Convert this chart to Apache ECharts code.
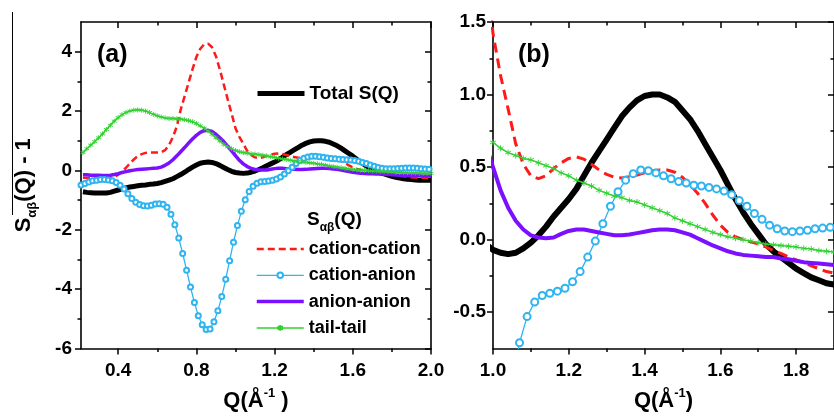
<!DOCTYPE html>
<html>
<head>
<meta charset="utf-8">
<script src="https://cdn.jsdelivr.net/npm/echarts@6/dist/echarts.min.js"></script>
<style>
  html, body { margin: 0; padding: 0; background: #fff; }
  #chart { width: 834px; height: 419px; }
</style>
</head>
<body>
<div id="chart"></div>
<script>
// Q grid (Å^-1) for the smooth partial structure factors
const qEven = [0.22,0.24,0.26,0.28,0.30,0.32,0.34,0.36,0.38,0.40,0.42,0.44,0.46,0.48,0.50,0.52,0.54,0.56,0.58,0.60,
  0.62,0.64,0.66,0.68,0.70,0.72,0.74,0.76,0.78,0.80,0.82,0.84,0.86,0.88,0.90,0.92,0.94,0.96,0.98,1.00,
  1.02,1.04,1.06,1.08,1.10,1.12,1.14,1.16,1.18,1.20,1.22,1.24,1.26,1.28,1.30,1.32,1.34,1.36,1.38,1.40,
  1.42,1.44,1.46,1.48,1.50,1.52,1.54,1.56,1.58,1.60,1.62,1.64,1.66,1.68,1.70,1.72,1.74,1.76,1.78,1.80,
  1.82,1.84,1.86,1.88,1.90,1.92,1.94,1.96,1.98,2.00];
// Q grid for the cation-anion partial (sampled between the even points)
const qOdd = [0.21,0.23,0.25,0.27,0.29,0.31,0.33,0.35,0.37,0.39,0.41,0.43,0.45,0.47,0.49,0.51,0.53,0.55,0.57,0.59,
  0.61,0.63,0.65,0.67,0.69,0.71,0.73,0.75,0.77,0.79,0.81,0.83,0.85,0.87,0.89,0.91,0.93,0.95,0.97,0.99,
  1.01,1.03,1.05,1.07,1.09,1.11,1.13,1.15,1.17,1.19,1.21,1.23,1.25,1.27,1.29,1.31,1.33,1.35,1.37,1.39,
  1.41,1.43,1.45,1.47,1.49,1.51,1.53,1.55,1.57,1.59,1.61,1.63,1.65,1.67,1.69,1.71,1.73,1.75,1.77,1.79,
  1.81,1.83,1.85,1.87,1.89,1.91,1.93,1.95,1.97,1.99];

const totalSQ = [-0.72,-0.74,-0.75,-0.76,-0.76,-0.76,-0.76,-0.74,-0.70,-0.66,-0.62,-0.59,-0.56,-0.54,-0.52,-0.50,-0.49,-0.47,-0.46,-0.44,
  -0.41,-0.37,-0.33,-0.28,-0.21,-0.14,-0.06,0.03,0.11,0.18,0.24,0.27,0.28,0.27,0.23,0.17,0.10,0.03,-0.03,-0.07,
  -0.09,-0.10,-0.09,-0.06,-0.02,0.03,0.09,0.16,0.22,0.28,0.35,0.44,0.53,0.61,0.69,0.77,0.85,0.91,0.96,0.99,
  1.00,1.00,0.98,0.95,0.89,0.83,0.75,0.66,0.57,0.48,0.38,0.28,0.19,0.11,0.04,-0.03,-0.08,-0.12,-0.16,-0.20,
  -0.23,-0.26,-0.28,-0.30,-0.31,-0.32,-0.33,-0.33,-0.33,-0.33];

const cationCation = [-0.25,-0.25,-0.26,-0.27,-0.27,-0.27,-0.27,-0.26,-0.22,-0.15,-0.04,0.09,0.23,0.37,0.48,0.55,0.59,0.60,0.60,0.60,
  0.61,0.68,0.85,1.12,1.48,2.05,2.50,2.95,3.40,3.82,4.10,4.25,4.27,4.15,3.85,3.40,2.90,2.40,1.92,1.42,
  1.13,0.90,0.66,0.52,0.44,0.42,0.44,0.49,0.53,0.56,0.57,0.555,0.52,0.48,0.45,0.43,0.425,0.435,0.445,0.46,
  0.475,0.48,0.48,0.465,0.43,0.38,0.32,0.25,0.17,0.10,0.05,0.02,0.00,-0.015,-0.03,-0.05,-0.075,-0.095,-0.12,-0.14,
  -0.16,-0.18,-0.20,-0.22,-0.23,-0.24,-0.25,-0.25,-0.26,-0.26];

const cationAnion = [-0.49,-0.44,-0.39,-0.35,-0.33,-0.31,-0.31,-0.32,-0.35,-0.41,-0.50,-0.63,-0.79,-0.95,-1.07,-1.15,-1.19,-1.20,-1.17,-1.13,
  -1.12,-1.14,-1.24,-1.48,-1.83,-2.28,-2.80,-3.36,-3.93,-4.45,-4.90,-5.20,-5.36,-5.34,-5.10,-4.73,-4.25,-3.67,-3.04,-2.42,
  -1.86,-1.38,-0.99,-0.71,-0.53,-0.43,-0.385,-0.37,-0.355,-0.335,-0.29,-0.22,-0.12,-0.01,0.11,0.23,0.33,0.41,0.455,0.48,
  0.475,0.46,0.44,0.42,0.40,0.39,0.375,0.37,0.36,0.35,0.335,0.31,0.27,0.23,0.18,0.14,0.10,0.075,0.06,0.055,
  0.06,0.065,0.075,0.08,0.085,0.08,0.07,0.06,0.05,0.04];

const anionAnion = [-0.15,-0.15,-0.16,-0.16,-0.16,-0.17,-0.17,-0.16,-0.14,-0.11,-0.07,-0.04,-0.01,0.01,0.03,0.04,0.05,0.06,0.07,0.08,
  0.11,0.17,0.25,0.36,0.49,0.63,0.77,0.92,1.06,1.18,1.28,1.34,1.35,1.31,1.22,1.10,0.97,0.82,0.66,0.50,
  0.34,0.22,0.13,0.07,0.03,0.015,0.01,0.015,0.04,0.06,0.07,0.07,0.06,0.05,0.04,0.03,0.03,0.035,0.045,0.055,
  0.065,0.07,0.07,0.065,0.05,0.035,0.01,-0.015,-0.04,-0.06,-0.08,-0.095,-0.105,-0.11,-0.115,-0.12,-0.12,-0.13,-0.135,-0.145,
  -0.155,-0.16,-0.165,-0.17,-0.175,-0.18,-0.18,-0.185,-0.19,-0.19];

const tailTail = [0.60,0.73,0.85,0.97,1.10,1.23,1.38,1.52,1.66,1.78,1.88,1.95,2.00,2.03,2.04,2.03,2.00,1.95,1.89,1.84,
  1.80,1.77,1.75,1.75,1.74,1.73,1.71,1.68,1.64,1.58,1.50,1.42,1.33,1.22,1.10,0.99,0.88,0.80,0.73,0.67,
  0.63,0.60,0.58,0.56,0.55,0.53,0.51,0.49,0.46,0.44,0.41,0.39,0.37,0.34,0.32,0.30,0.29,0.27,0.26,0.24,
  0.22,0.20,0.18,0.15,0.13,0.11,0.09,0.07,0.05,0.035,0.02,0.01,0.00,-0.01,-0.02,-0.03,-0.035,-0.04,-0.045,-0.05,
  -0.06,-0.065,-0.075,-0.08,-0.085,-0.09,-0.095,-0.10,-0.10,-0.10];

// Axis ranges and tick positions
const rangeA_x = [0.21, 2.0], rangeA_y = [-6, 5];
const rangeB_x = [1.0, 1.9], rangeB_y = [-0.75, 1.5];
const majorA_x = [0.4, 0.8, 1.2, 1.6, 2.0], minorA_x = [0.6, 1.0, 1.4, 1.8];
const majorA_y = [-6, -4, -2, 0, 2, 4], minorA_y = [-5, -3, -1, 1, 3];
const majorB_x = [1.0, 1.2, 1.4, 1.6, 1.8], minorB_x = [1.1, 1.3, 1.5, 1.7];
const majorB_y = [-0.5, 0, 0.5, 1.0, 1.5], minorB_y = [-0.25, 0.25, 0.75, 1.25];

const FONT = '"Liberation Sans", Arial, Helvetica, sans-serif';
const tickLine = { color: '#000', width: 1.5 };

// One labelled axis + minor-tick axis on the labelled side, and a mirrored pair on the opposite side.
function axisSet(dim, gridIndex, range, major, minor, fmt, labelMargin, extra) {
  const sideA = dim === 'x' ? 'bottom' : 'left';
  const sideB = dim === 'x' ? 'top' : 'right';
  const base = { type: 'value', gridIndex, min: range[0], max: range[1], splitLine: { show: false } };
  const line = { show: true, onZero: false, lineStyle: { color: '#000', width: 1.6 } };
  const noLine = { show: false, onZero: false };
  return [
    Object.assign({}, base, {
      position: sideA, axisLine: line,
      axisTick: { show: true, inside: false, length: 6, customValues: major, lineStyle: tickLine },
      axisLabel: { show: true, customValues: major, formatter: fmt, margin: labelMargin,
        fontSize: 19, fontWeight: 'bold', color: '#000', fontFamily: FONT }
    }, extra || {}),
    Object.assign({}, base, {
      position: sideA, axisLine: noLine,
      axisTick: { show: true, inside: false, length: 3.5, customValues: minor, lineStyle: tickLine },
      axisLabel: { show: false }
    }),
    Object.assign({}, base, {
      position: sideB, axisLine: line,
      axisTick: { show: true, inside: true, length: 6, customValues: major, lineStyle: tickLine },
      axisLabel: { show: false }
    }),
    Object.assign({}, base, {
      position: sideB, axisLine: noLine,
      axisTick: { show: true, inside: true, length: 3.5, customValues: minor, lineStyle: tickLine },
      axisLabel: { show: false }
    })
  ];
}

const oneDecimal = v => v.toFixed(1);
const integer = v => String(Math.round(v));

const qName = (spaced) => ({
  name: '{a|Q(Å}{s|-1}{a|' + (spaced ? ' )' : ')') + '}',
  nameLocation: 'middle',
  nameGap: 39,
  nameTextStyle: {
    fontFamily: FONT, fontWeight: 'bold', color: '#000',
    rich: {
      a: { fontSize: 22, lineHeight: 26, fontWeight: 'bold', fontFamily: FONT, color: '#000' },
      s: { fontSize: 13, lineHeight: 13, padding: [0, 0, 14, 0], fontWeight: 'bold', fontFamily: FONT, color: '#000' }
    }
  }
});

const yName = {
  name: '{a|S}{g|αβ}{a|(Q) - 1}',
  nameLocation: 'middle',
  nameRotate: 90,
  nameGap: 42,
  nameTextStyle: {
    fontFamily: FONT, fontWeight: 'bold', color: '#000',
    rich: {
      a: { fontSize: 22, lineHeight: 30, fontWeight: 'bold', fontFamily: FONT, color: '#000' },
      g: { fontSize: 13, lineHeight: 13, padding: [17, 0, 0, 0], fontWeight: 'bold', fontFamily: FONT, color: '#000' }
    }
  }
};

const xAxes = [].concat(
  axisSet('x', 0, rangeA_x, majorA_x, minorA_x, oneDecimal, 13, qName(true)),
  axisSet('x', 1, rangeB_x, majorB_x, minorB_x, oneDecimal, 13, qName(false))
);
const yAxes = [].concat(
  axisSet('y', 0, rangeA_y, majorA_y, minorA_y, integer, 9, yName),
  axisSet('y', 1, rangeB_y, majorB_y, minorB_y, oneDecimal, 7)
);

const pairs = (qs, vs) => qs.map((q, i) => [q, vs[i]]);

const ASTERISK = 'path://M5,0L5,10M0.67,2.5L9.33,7.5M0.67,7.5L9.33,2.5';
const C = { total: '#000', cc: '#ff1a1a', ca: '#2fb4ef', aa: '#7a10ff', tt: '#30d030' };

// Styles per panel: panel (b) is drawn at a larger scale, so its strokes and markers are heavier.
function seriesStyle(key, panel) {
  const big = panel === 1;
  switch (key) {
    case 'total':
      return { symbol: 'none', lineStyle: { color: C.total, width: big ? 6 : 5 }, itemStyle: { color: C.total } };
    case 'cc':
      return { symbol: 'none', lineStyle: { color: C.cc, width: big ? 3 : 2.5, type: big ? [10, 6] : [7, 4] }, itemStyle: { color: C.cc } };
    case 'ca':
      return { symbol: 'emptyCircle', symbolSize: big ? 7 : 5, showSymbol: true,
        lineStyle: { color: C.ca, width: 1.3 }, itemStyle: { color: C.ca, borderColor: C.ca, borderWidth: big ? 1.2 : 1 } };
    case 'aa':
      return { symbol: 'none', lineStyle: { color: C.aa, width: big ? 4 : 3.5 }, itemStyle: { color: C.aa } };
    default:
      return { symbol: ASTERISK, symbolSize: big ? 6 : 5, showSymbol: true,
        lineStyle: { color: C.tt, width: 1.5 }, itemStyle: { color: C.tt, borderColor: C.tt, borderWidth: 0.9 } };
  }
}

const seriesDefs = [
  { name: 'Total S(Q)', key: 'total', q: qEven, v: totalSQ },
  { name: 'cation-cation', key: 'cc', q: qEven, v: cationCation },
  { name: 'cation-anion', key: 'ca', q: qOdd, v: cationAnion },
  { name: 'anion-anion', key: 'aa', q: qEven, v: anionAnion },
  { name: 'tail-tail', key: 'tt', q: qEven, v: tailTail }
];

const series = [];
[0, 1].forEach(panel => {
  seriesDefs.forEach(d => {
    series.push(Object.assign({
      type: 'line', name: d.name,
      xAxisIndex: panel * 4, yAxisIndex: panel * 4,
      data: pairs(d.q, d.v),
      clip: true, animation: false, silent: true
    }, seriesStyle(d.key, panel)));
  });
});

const legendText = { fontSize: 18, fontWeight: 'bold', fontFamily: FONT, color: '#000' };
const noMarker = { opacity: 0 };

const option = {
  animation: false,
  backgroundColor: '#fff',
  grid: [
    { left: 81, right: 403, top: 22, bottom: 67, containLabel: false },
    { left: 493, right: -10, top: 22, bottom: 67, containLabel: false }
  ],
  xAxis: xAxes,
  yAxis: yAxes,
  legend: [
    { data: [{ name: 'Total S(Q)', itemStyle: noMarker }], left: 255, top: 84, orient: 'vertical', padding: 0,
      itemWidth: 47, itemHeight: 7, selectedMode: false, lineStyle: { width: 'inherit' },
      textStyle: Object.assign({}, legendText, { fontSize: 19 }) },
    { data: [{ name: 'cation-cation', itemStyle: noMarker }, 'cation-anion',
             { name: 'anion-anion', itemStyle: noMarker }, 'tail-tail'],
      left: 255, top: 240, orient: 'vertical', padding: 0, itemGap: 8.3, itemWidth: 47, itemHeight: 7,
      selectedMode: false, lineStyle: { width: 'inherit' }, textStyle: legendText }
  ],
  graphic: [
    { type: 'line', shape: { x1: 12.5, y1: 12, x2: 12.5, y2: 215 }, style: { stroke: '#000', lineWidth: 1 } },
    { type: 'text', x: 97, y: 55, style: { text: '(a)', font: 'bold 25px ' + FONT, fill: '#000', verticalAlign: 'middle' } },
    { type: 'text', x: 518, y: 55, style: { text: '(b)', font: 'bold 25px ' + FONT, fill: '#000', verticalAlign: 'middle' } },
    { type: 'text', x: 307, y: 206,
      style: {
        text: '{a|S}{g|αβ}{a|(Q)}',
        rich: {
          a: { fontSize: 19, lineHeight: 28, fontWeight: 'bold', fontFamily: FONT, fill: '#000' },
          g: { fontSize: 12, lineHeight: 12, padding: [16, 0, 0, 0], fontWeight: 'bold', fontFamily: FONT, fill: '#000' }
        }
      } }
  ],
  series
};

const chart = echarts.init(document.getElementById('chart'), null, { renderer: 'canvas' });
chart.setOption(option);
</script>
</body>
</html>
